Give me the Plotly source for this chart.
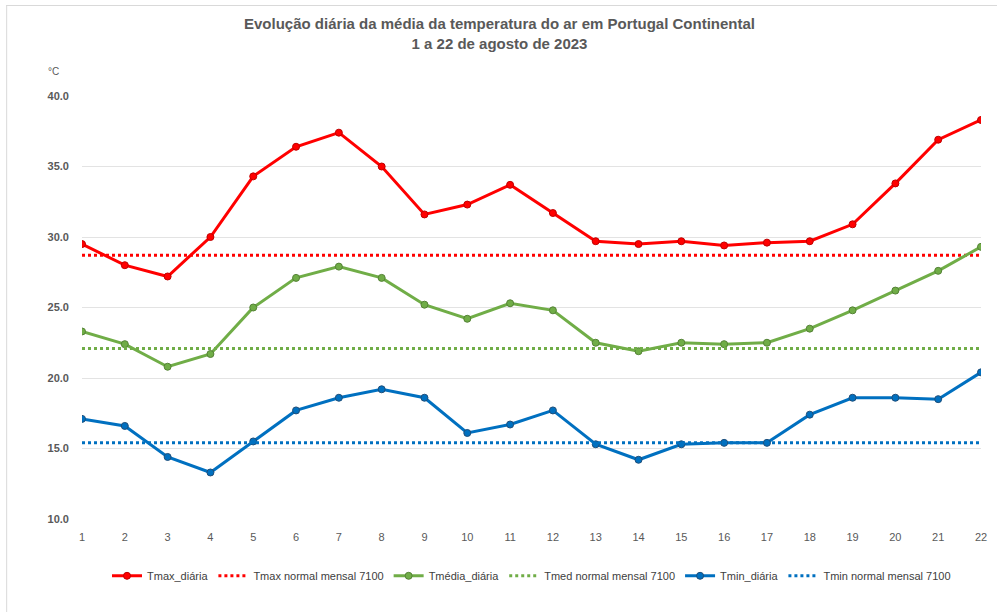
import plotly.graph_objects as go

days = list(range(1, 23))
day_labels = [str(d) for d in days]

tmax_diaria = [29.5, 28.0, 27.2, 30.0, 34.3, 36.4, 37.4, 35.0, 31.6, 32.3, 33.7,
               31.7, 29.7, 29.5, 29.7, 29.4, 29.6, 29.7, 30.9, 33.8, 36.9, 38.3]
tmedia_diaria = [23.3, 22.4, 20.8, 21.7, 25.0, 27.1, 27.9, 27.1, 25.2, 24.2, 25.3,
                 24.8, 22.5, 21.9, 22.5, 22.4, 22.5, 23.5, 24.8, 26.2, 27.6, 29.3]
tmin_diaria = [17.1, 16.6, 14.4, 13.3, 15.5, 17.7, 18.6, 19.2, 18.6, 16.1, 16.7,
               17.7, 15.3, 14.2, 15.3, 15.4, 15.4, 17.4, 18.6, 18.6, 18.5, 20.4]

tmax_normal = 28.7
tmed_normal = 22.1
tmin_normal = 15.4

red = "#FF0000"
green = "#70AD47"
blue = "#0070C0"

fig = go.Figure()

def add_daily(name, vals, color, outline):
    fig.add_trace(go.Scatter(
        x=days, y=vals, name=name, mode="lines+markers",
        line=dict(color=color, width=3),
        marker=dict(color=color, size=7, line=dict(color=outline, width=1)),
    ))

def add_normal(name, val, color):
    fig.add_trace(go.Scatter(
        x=days, y=[val] * len(days), name=name, mode="lines",
        line=dict(color=color, width=3, dash="dot"),
    ))

add_daily("Tmax_diária", tmax_diaria, red, "#C00000")
add_normal("Tmax normal mensal 7100", tmax_normal, red)
add_daily("Tmédia_diária", tmedia_diaria, green, "#548235")
add_normal("Tmed normal mensal 7100", tmed_normal, green)
add_daily("Tmin_diária", tmin_diaria, blue, "#1F4E79")
add_normal("Tmin normal mensal 7100", tmin_normal, blue)

font_family = "Liberation Sans, Arial, sans-serif"
grey = "#595959"

L, R, T, B = 82, 16, 96, 93
PW, PH = 999 - L - R, 612 - T - B

def px_x(px):
    return (px - L) / PW

def px_y(py):
    return (612 - B - py) / PH

fig.update_layout(
    width=999, height=612,
    margin=dict(l=L, r=R, t=T, b=B),
    paper_bgcolor="white", plot_bgcolor="white",
    font=dict(family=font_family, color=grey, size=11),
    title=dict(
        text="<b>Evolução diária da média da temperatura do ar em Portugal Continental<br>1 a 22 de agosto de 2023</b>",
        x=0.5, xanchor="center", y=0.952, yanchor="top",
        font=dict(size=15, color=grey, family=font_family),
    ),
    xaxis=dict(
        range=[1, 22], tickmode="array", tickvals=days, ticktext=day_labels,
        showgrid=False, zeroline=False, showline=False,
        tickfont=dict(size=11, color=grey), ticks="",
        ticklabelstandoff=10,
    ),
    yaxis=dict(
        range=[10, 40], dtick=5, tickformat=".1f",
        showgrid=True, gridcolor="#E3E3E3", gridwidth=1,
        zeroline=False, showline=False,
        tickfont=dict(size=11, color=grey, family=font_family),
        ticklabelstandoff=12,
        tickprefix="<b>", ticksuffix="</b>",
    ),
    legend=dict(
        orientation="h", x=0.5, xanchor="center", y=-0.1, yanchor="top",
        font=dict(size=11, color="#404040"), itemwidth=30,
    ),
    showlegend=True,
)

# outer chart-area border (top and left edges visible in the reference)
fig.add_shape(type="line", xref="paper", yref="paper",
              x0=px_x(6), x1=px_x(999), y0=px_y(5.5), y1=px_y(5.5),
              line=dict(color="#D9D9D9", width=1))
fig.add_shape(type="line", xref="paper", yref="paper",
              x0=px_x(6.5), x1=px_x(6.5), y0=px_y(5), y1=px_y(612),
              line=dict(color="#D9D9D9", width=1))

fig.add_annotation(
    text="°C", xref="paper", yref="paper",
    x=px_x(53), y=px_y(72),
    showarrow=False, xanchor="center", yanchor="middle",
    font=dict(size=10, color=grey),
)

fig.write_html(
    "out.html",
    config={"displayModeBar": False},
    post_script="document.body.style.margin='0';document.body.style.overflow='hidden';",
)
